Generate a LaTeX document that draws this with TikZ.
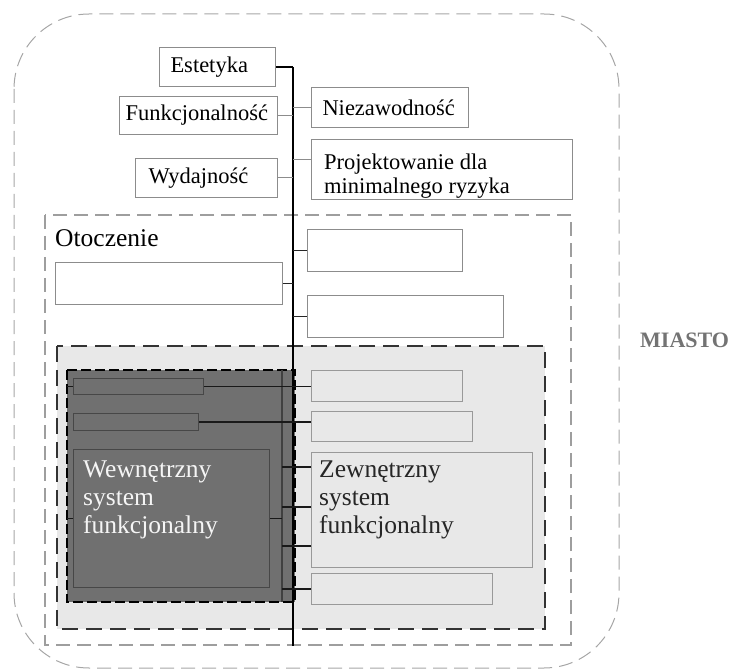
\documentclass[tikz,border=0pt]{standalone}
\usepackage{fontspec}
\setmainfont{Liberation Serif}
\newcommand\fsA{\fontsize{22.5}{25}\selectfont}
\newcommand\fsB{\fontsize{25.5}{28}\selectfont}
\begin{document}
\begin{tikzpicture}[x=1pt,y=-1pt,
  outerdash/.style={draw=black!35, line width=1, dash pattern=on 14pt off 7pt},
  envdash/.style={draw=black!38, line width=1.1, dash pattern=on 14pt off 7pt},
  sysdash/.style={draw=black!80, fill=black!9, line width=2, dash pattern=on 16pt off 8pt},
  innerdash/.style={draw=black, fill=black!56, line width=1.5, dash pattern=on 10pt off 4pt},
  topbox/.style={draw=black!45, fill=white, line width=1, inner ysep=0, anchor=north west, font=\fsA, align=left},
  lgbox/.style={draw=black!40, fill=black!9, line width=1, inner sep=0, anchor=north west},
  dkbox/.style={draw=black!72, fill=black!56, line width=1, inner sep=0, anchor=north west},
  trunkline/.style={draw=black, line width=1.8},
  thinconn/.style={draw=black!45, line width=1},
  darkconn/.style={draw=black!85, line width=1.6},
  sysconn/.style={draw=black!90, line width=1.4},
  txt/.style={anchor=base west, inner sep=0},
]
\useasboundingbox (0,0) rectangle (734,671);

% regions
\draw[outerdash, rounded corners=75] (14,14) rectangle (619,668);
\draw[envdash] (45,215) rectangle (571,645);
\draw[sysdash] (57,346) rectangle (545,629);
\draw[innerdash] (67,370) rectangle (295,602);
\coordinate (dkL) at (67,370);
\coordinate (stripT) at (282,370);
\coordinate (stripB) at (282,602);
\draw[black!75, line width=1.2] (stripT) -- (stripB);

% trunk
\coordinate (tT) at (293,67);
\coordinate (tB) at (293,646);
\draw[trunkline] (tT) -- (tB);

% top boxes
\node[topbox, minimum width=116, minimum height=39, text width=94, inner xsep=11] (est) at (159,47) {Estetyka};
\node[topbox, minimum width=158, minimum height=38, text width=146, inner xsep=6] (fun) at (119,96) {Funkcjonalność};
\node[topbox, minimum width=142, minimum height=39, text width=116, inner xsep=13] (wyd) at (135,158) {Wydajność};
\node[topbox, minimum width=157, minimum height=40, text width=135, inner xsep=11] (nie) at (311,87) {Niezawodność};
\node[topbox, minimum width=261, minimum height=60, inner sep=0] (proj) at (311,139) {};

% environment boxes
\node[topbox, minimum width=227, minimum height=42, inner sep=0] (envL) at (55,262) {};
\node[topbox, minimum width=155, minimum height=42, inner sep=0] (envR1) at (307,229) {};
\node[topbox, minimum width=196, minimum height=42, inner sep=0] (envR2) at (307,295) {};

% system boxes
\node[dkbox, minimum width=130, minimum height=16] (ia) at (73,378) {};
\node[dkbox, minimum width=125, minimum height=17] (ib) at (73,413) {};
\node[dkbox, minimum width=196, minimum height=138] (wew) at (73,449) {};
\node[lgbox, minimum width=151, minimum height=31] (cc) at (311,370) {};
\node[lgbox, minimum width=161, minimum height=30] (dd) at (311,411) {};
\node[lgbox, minimum width=221, minimum height=115] (zew) at (311,452) {};
\node[lgbox, minimum width=181, minimum height=31] (ee) at (311,573) {};

% connectors top
\draw[trunkline] (est.east) -- (est.east -| tT);
\draw[thinconn] (fun.east) -- (fun.east -| tT);
\draw[thinconn] (wyd.east) -- (wyd.east -| tT);
\draw[thinconn] (nie.west) -- (nie.west -| tT);
\coordinate (projC) at ([yshift=10pt]proj.west);
\draw[thinconn] (projC) -- (projC -| tT);
\draw[darkconn] (envL.east) -- (envL.east -| tT);
\draw[darkconn] (envR1.west) -- (envR1.west -| tT);
\draw[darkconn] (envR2.west) -- (envR2.west -| tT);

% connectors system
\draw[sysconn] (ia.east) -- (ia.east -| cc.west);
\draw[sysconn] (ib.east) -- (ib.east -| dd.west);
\draw[sysconn] (wew.east) -- (wew.east -| stripT);
\draw[sysconn] (ia.west) -- (ia.west -| dkL);
\draw[sysconn] (wew.west) -- (wew.west -| dkL);
\coordinate (z1) at ([yshift=-15pt]zew.north west);
\coordinate (z2) at ([yshift=-55pt]zew.north west);
\coordinate (z3) at ([yshift=-94pt]zew.north west);
\draw[sysconn] (z1) -- (z1 -| stripT);
\draw[sysconn] (z2) -- (z2 -| stripT);
\draw[sysconn] (z3) -- (z3 -| stripT);
\draw[sysconn] (ee.west) -- (ee.west -| stripT);

% texts
\node[txt, font=\fsB] (otT) at (55,247) {Otoczenie};
\node[txt, font=\fsA] (p1) at (324,170) {Projektowanie dla};
\node[txt, font=\fsA] (p2) at (324,194) {minimalnego ryzyka};
\node[txt, font=\fsB, text=black!4] (w1) at (83,477) {Wewnętrzny};
\node[txt, font=\fsB, text=black!4] (w2) at (83,505) {system};
\node[txt, font=\fsB, text=black!4] (w3) at (83,533) {funkcjonalny};
\node[txt, font=\fsB, text=black!85] (z1t) at (319,477) {Zewnętrzny};
\node[txt, font=\fsB, text=black!85] (z2t) at (319,505) {system};
\node[txt, font=\fsB, text=black!85] (z3t) at (319,533) {funkcjonalny};
\node[txt, font=\fontsize{22}{26}\selectfont\bfseries, text=black!55] (miasto) at (640,347) {MIASTO};
\end{tikzpicture}
\end{document}
